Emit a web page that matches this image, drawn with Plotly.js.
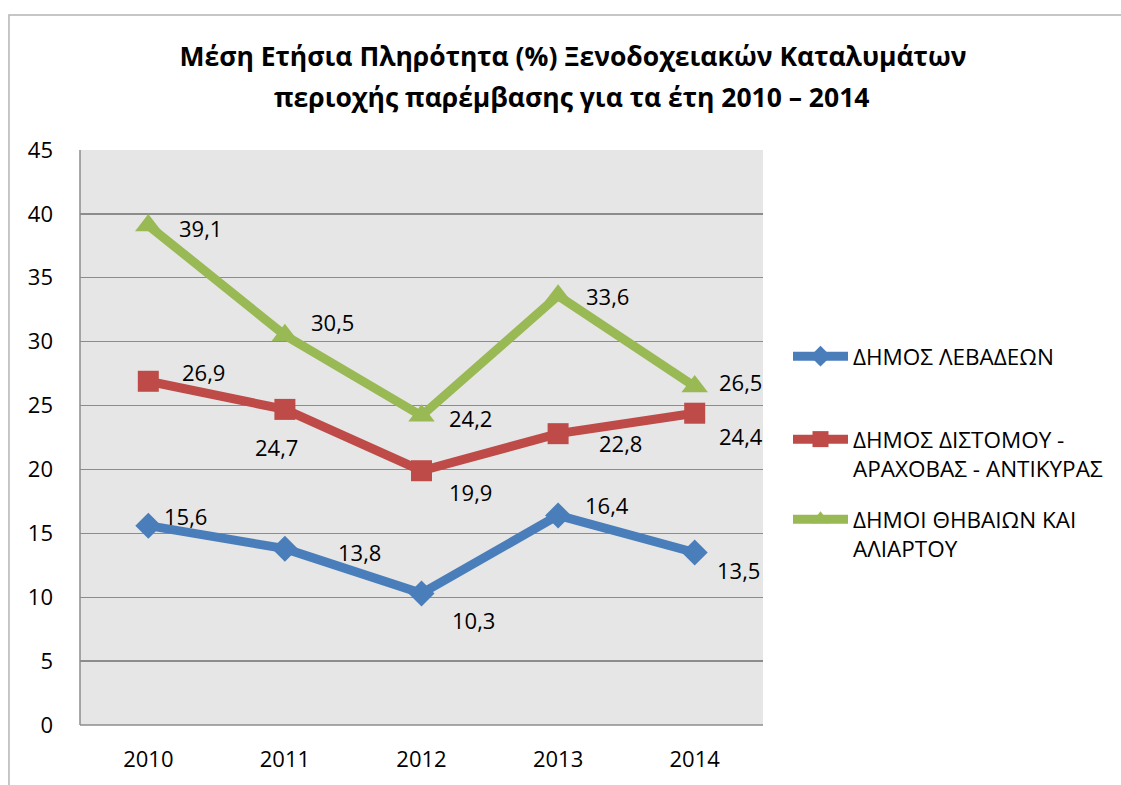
<!DOCTYPE html>
<html>
<head>
<meta charset="utf-8">
<script src="https://cdn.plot.ly/plotly-3.0.1.min.js"></script>
<style>html,body{margin:0;padding:0;background:#fff;}</style>
</head>
<body>
<div id="chart" style="width:1121px;height:785px;"></div>
<script>
const years = ['2010', '2011', '2012', '2013', '2014'];
const seriesNames = ['ΔΗΜΟΣ ΛΕΒΑΔΕΩΝ', 'ΔΗΜΟΣ ΔΙΣΤΟΜΟΥ -<br>ΑΡΑΧΟΒΑΣ - ΑΝΤΙΚΥΡΑΣ', 'ΔΗΜΟΙ ΘΗΒΑΙΩΝ ΚΑΙ<br>ΑΛΙΑΡΤΟΥ'];
const levadeon = [15.6, 13.8, 10.3, 16.4, 13.5];
const distomou = [26.9, 24.7, 19.9, 22.8, 24.4];
const thivaion = [39.1, 30.5, 24.2, 33.6, 26.5];
const yTicks = [0, 5, 10, 15, 20, 25, 30, 35, 40, 45];
const titleLine1 = 'Μέση Ετήσια Πληρότητα (%) Ξενοδοχειακών Καταλυμάτων';
const titleLine2 = 'περιοχής παρέμβασης για τα έτη 2010 – 2014';

const FONT = 'Open Sans, Noto Sans, sans-serif';
const colors = ['#4a7ebb', '#be4b48', '#98b954'];
const symbols = ['diamond', 'square', 'triangle-up'];
const msizes = [20, 21, 23];
const data = [levadeon, distomou, thivaion];
const legendIds = ['legend', 'legend2', 'legend3'];
const legendTops = [335, 418, 498];

// label offsets (pixels) per series per point
const offs = [
  [[37, 10], [75, -3], [52, -27], [49, 10], [44, -17]],
  [[55, 9], [-8, -38], [49, -21], [62, -9], [46, -23]],
  [[52, -3], [48, 13], [49, -2], [49, 0], [46, 4]]
];

const traces = data.map((vals, i) => ({
  type: 'scatter', mode: 'lines+markers', x: years, y: vals,
  name: seriesNames[i], legend: legendIds[i],
  line: {color: colors[i], width: 9},
  marker: {symbol: symbols[i], size: msizes[i], color: colors[i]},
  cliponaxis: false
}));

const annotations = [];
data.forEach((vals, i) => {
  vals.forEach((v, j) => {
    annotations.push({
      x: j, y: v, xref: 'x', yref: 'y',
      text: v.toFixed(1).replace('.', ','), showarrow: false,
      xanchor: 'center', yanchor: 'middle',
      xshift: offs[i][j][0], yshift: offs[i][j][1],
      font: {family: FONT, size: 22, color: '#000'}
    });
  });
});
annotations.push({
  xref: 'paper', yref: 'paper', x: 0.72, y: (725 - 97) / 575,
  xanchor: 'center', yanchor: 'middle', showarrow: false,
  text: '<b>' + titleLine2 + '</b>',
  font: {family: FONT, size: 26.5, color: '#000'}
});

function legendCfg(top) {
  return {
    x: (788 - 80) / 683, xanchor: 'left', y: (725 - top) / 575, yanchor: 'top',
    font: {family: FONT, size: 22.5, color: '#000'},
    valign: 'top', itemwidth: 55,
    bgcolor: 'rgba(0,0,0,0)'
  };
}

const layout = {
  width: 1121, height: 785,
  margin: {l: 80, r: 358, t: 150, b: 60},
  paper_bgcolor: '#ffffff', plot_bgcolor: '#e6e6e6',
  title: {
    text: '<b>' + titleLine1 + '</b>',
    font: {family: FONT, size: 26.5, color: '#000'},
    x: 573 / 1121, xanchor: 'center', y: 1 - 57 / 785, yanchor: 'middle'
  },
  xaxis: {
    type: 'category', range: [-0.5, 4.5], showgrid: false, zeroline: false,
    showline: false, ticks: '', ticklabelstandoff: 19,
    tickfont: {family: FONT, size: 22, color: '#000'}, fixedrange: true
  },
  yaxis: {
    range: [0, 45], tickvals: yTicks, showgrid: true, gridcolor: '#8c8c8c', gridwidth: 1.3,
    zeroline: false, showline: false, ticks: '', ticklabelstandoff: 26,
    tickfont: {family: FONT, size: 22, color: '#000'}, fixedrange: true
  },
  showlegend: true,
  legend: legendCfg(legendTops[0]),
  legend2: legendCfg(legendTops[1]),
  legend3: legendCfg(legendTops[2]),
  annotations: annotations,
  shapes: [
    {type: 'rect', xref: 'paper', yref: 'paper', x0: -0.104, x1: 2, y0: -1, y1: 1.2348,
     line: {color: '#b4b4b4', width: 1.5}, fillcolor: 'rgba(0,0,0,0)', layer: 'below'},
    {type: 'line', xref: 'paper', yref: 'paper', x0: 0, x1: 0, y0: 0, y1: 1,
     line: {color: '#8c8c8c', width: 1.5}},
    {type: 'line', xref: 'paper', yref: 'paper', x0: 0, x1: 1, y0: 0, y1: 0,
     line: {color: '#8c8c8c', width: 1.5}}
  ]
};

Plotly.newPlot('chart', traces, layout, {displayModeBar: false, staticPlot: true});
</script>
</body>
</html>
